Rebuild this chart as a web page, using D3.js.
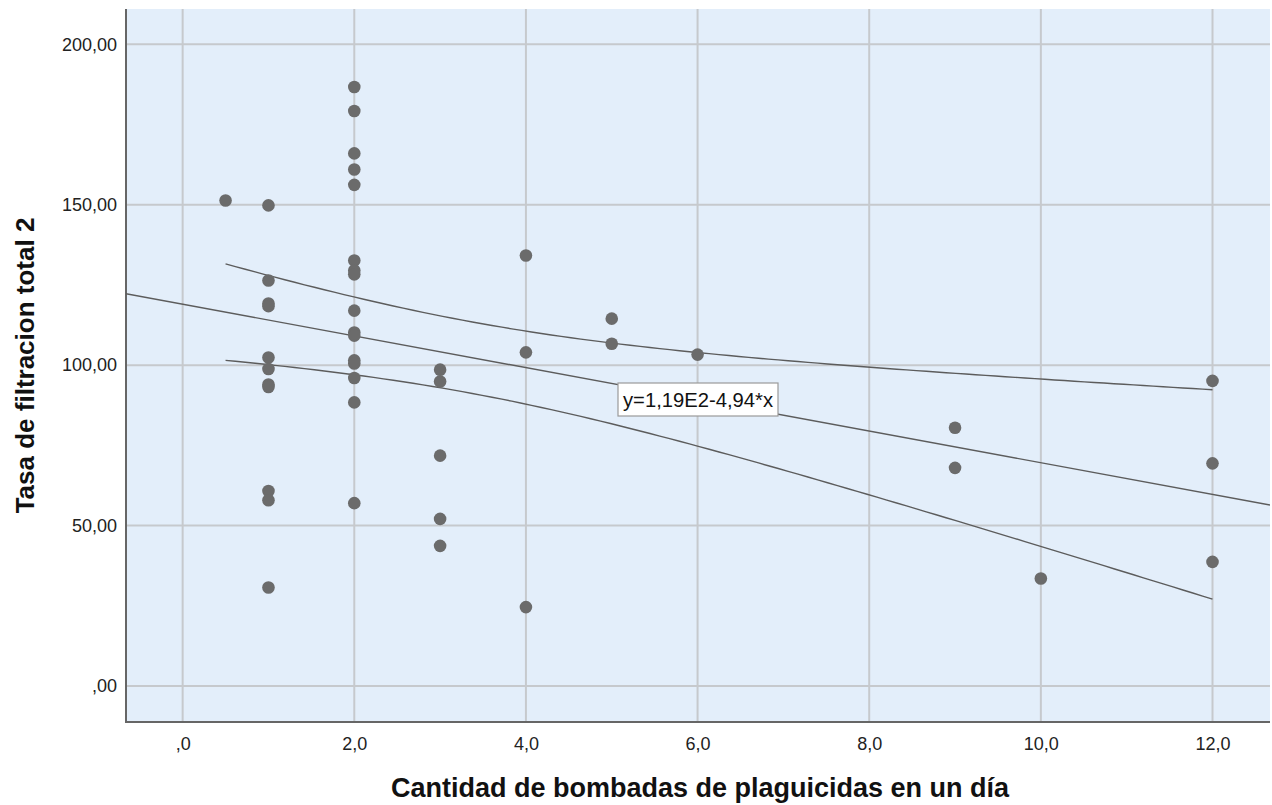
<!DOCTYPE html>
<html>
<head>
<meta charset="utf-8">
<script src="https://cdn.jsdelivr.net/npm/d3@7"></script>
<style>
  html, body { margin: 0; padding: 0; background: #ffffff; }
  svg { display: block; }
  text { font-family: Arial, "Liberation Sans", sans-serif; }
</style>
</head>
<body>
<svg id="chart" width="1272" height="805"></svg>
<script>
// ---- Data ----
const bombadas = [
  0.5,
  1, 1, 1, 1, 1, 1, 1, 1, 1, 1, 1,
  2, 2, 2, 2, 2, 2, 2, 2, 2, 2, 2, 2, 2, 2, 2, 2,
  3, 3, 3, 3, 3,
  4, 4, 4,
  5, 5,
  6,
  9, 9,
  10,
  12, 12, 12
];
const tasa = [
  151.3,
  149.8, 126.4, 119.2, 118.4, 102.4, 98.8, 94.0, 93.2, 60.8, 57.9, 30.7,
  186.7, 179.2, 166.0, 161.0, 156.2, 132.6, 129.5, 128.3, 117.0, 110.2, 109.2, 101.5, 100.5, 96.0, 88.4, 57.0,
  98.6, 94.9, 71.8, 52.1, 43.7,
  134.2, 104.0, 24.6,
  114.5, 106.7,
  103.3,
  80.5, 68.0,
  33.5,
  95.1, 69.4, 38.7
];
const xTicks = [0, 2, 4, 6, 8, 10, 12];
const xTickLabels = [",0", "2,0", "4,0", "6,0", "8,0", "10,0", "12,0"];
const yTicks = [0, 50, 100, 150, 200];
const yTickLabels = [",00", "50,00", "100,00", "150,00", "200,00"];
const fitIntercept = 119.0;   // y = 1,19E2 - 4,94*x
const fitSlope = -4.94;
const fitLabel = "y=1,19E2-4,94*x";
const xTitle = "Cantidad de bombadas de plaguicidas en un día";
const yTitle = "Tasa de filtracion total 2";

// ---- Layout ----
const svg = d3.select("#chart");
const pLeft = 126, pRight = 1270, pTop = 9, pBottom = 722;
const x = d3.scaleLinear().domain([-0.66, 12.67]).range([pLeft, pRight]);
const y = d3.scaleLinear().domain([-11.2, 211]).range([pBottom, pTop]);

// background
svg.append("rect")
  .attr("x", pLeft).attr("y", pTop)
  .attr("width", pRight - pLeft).attr("height", pBottom - pTop)
  .attr("fill", "#e3eefa");

// grid
const grid = svg.append("g").attr("stroke", "#c6c9cd").attr("stroke-width", 2);
grid.selectAll("line.v").data(xTicks).join("line").attr("class", "v")
  .attr("x1", d => x(d)).attr("x2", d => x(d))
  .attr("y1", pTop).attr("y2", pBottom);
grid.selectAll("line.h").data(yTicks).join("line").attr("class", "h")
  .attr("y1", d => y(d)).attr("y2", d => y(d))
  .attr("x1", pLeft).attr("x2", pRight);

// axes via d3 axis generators (no tick marks, labels only)
const xAxis = d3.axisBottom(x).tickValues(xTicks)
  .tickFormat((d, i) => xTickLabels[i]).tickSize(0).tickPadding(15);
const gx = svg.append("g").attr("transform", `translate(0,${pBottom})`).call(xAxis);
gx.select(".domain").remove();
gx.selectAll("text").attr("font-size", 18).attr("fill", "#222")
  .style("font-family", "Arial, 'Liberation Sans', sans-serif");

const yAxis = d3.axisLeft(y).tickValues(yTicks)
  .tickFormat((d, i) => yTickLabels[i]).tickSize(0).tickPadding(9);
const gy = svg.append("g").attr("transform", `translate(${pLeft},0)`).call(yAxis);
gy.select(".domain").remove();
gy.selectAll("text").attr("font-size", 18).attr("fill", "#222")
  .style("font-family", "Arial, 'Liberation Sans', sans-serif");

// axis lines
svg.append("line").attr("x1", pLeft).attr("x2", pLeft).attr("y1", pTop).attr("y2", pBottom + 1)
  .attr("stroke", "#666").attr("stroke-width", 2);
svg.append("line").attr("x1", pLeft).attr("x2", pRight).attr("y1", pBottom).attr("y2", pBottom)
  .attr("stroke", "#666").attr("stroke-width", 2);

// ---- Regression fit and 95% confidence band of the mean ----
const n = bombadas.length;
const xbar = d3.mean(bombadas);
const sxx = d3.sum(bombadas, v => (v - xbar) * (v - xbar));
const sse = d3.sum(bombadas, (v, i) => {
  const r = tasa[i] - (fitIntercept + fitSlope * v);
  return r * r;
});
const s = Math.sqrt(sse / (n - 2));
const tCrit = 2.017; // t(0.975, df = 43)
const xMin = d3.min(bombadas), xMax = d3.max(bombadas);
const bandXs = d3.range(0, 101).map(i => xMin + (xMax - xMin) * i / 100);
const half = v => tCrit * s * Math.sqrt(1 / n + (v - xbar) * (v - xbar) / sxx);
const fit = v => fitIntercept + fitSlope * v;

const lineGen = d3.line().x(d => x(d[0])).y(d => y(d[1]));
svg.append("clipPath").attr("id", "plotclip")
  .append("rect").attr("x", pLeft).attr("y", pTop).attr("width", pRight - pLeft).attr("height", pBottom - pTop);

const lines = svg.append("g").attr("clip-path", "url(#plotclip)")
  .attr("fill", "none").attr("stroke", "#5c5c5c").attr("stroke-width", 1.4);
lines.append("path").attr("d", lineGen(bandXs.map(v => [v, fit(v) + half(v)])));
lines.append("path").attr("d", lineGen(bandXs.map(v => [v, fit(v) - half(v)])));
lines.append("path").attr("d", lineGen(x.domain().map(v => [v, fit(v)])));

// points
svg.append("g").selectAll("circle").data(bombadas).join("circle")
  .attr("cx", d => x(d)).attr("cy", (d, i) => y(tasa[i]))
  .attr("r", 6.3).attr("fill", "#6b6b6b");

// fit label box
const lab = svg.append("g");
lab.append("rect")
  .attr("x", 618).attr("y", 383)
  .attr("width", 160).attr("height", 33)
  .attr("fill", "#ffffff").attr("stroke", "#9a9a9a").attr("stroke-width", 1.2);
lab.append("text")
  .attr("x", 698).attr("y", 406.5).attr("text-anchor", "middle")
  .attr("font-size", 19.5).attr("fill", "#111")
  .attr("textLength", 150).attr("lengthAdjust", "spacingAndGlyphs")
  .text(fitLabel);

// axis titles
svg.append("text")
  .attr("x", 700).attr("y", 797)
  .attr("text-anchor", "middle").attr("font-size", 27).attr("font-weight", "bold").attr("fill", "#111")
  .text(xTitle);
svg.append("text")
  .attr("transform", `translate(34,${(pTop + pBottom) / 2}) rotate(-90)`)
  .attr("text-anchor", "middle").attr("font-size", 26).attr("font-weight", "bold").attr("fill", "#111")
  .text(yTitle);
</script>
</body>
</html>
